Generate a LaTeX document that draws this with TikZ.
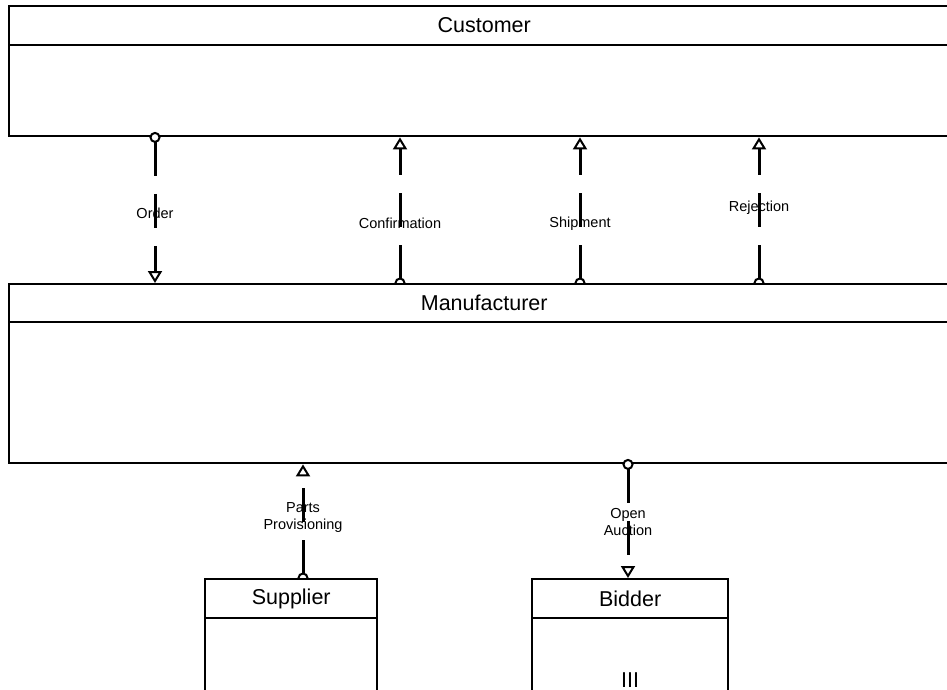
\documentclass[tikz,border=0pt]{standalone}
\usepackage{fontspec}
\setmainfont{Liberation Sans}
\usetikzlibrary{arrows.meta, positioning}
\pgfdeclarelayer{front}
\pgfdeclarelayer{top}
\pgfsetlayers{main,front,top}

\newcommand{\titlesize}{\fontsize{21.5}{24}\selectfont}
\newcommand{\msgsize}{\fontsize{14.5}{17}\selectfont}

\begin{document}
\begin{tikzpicture}[
  x=1pt, y=-1pt,
  classbox/.style={draw, line width=2.4pt, fill=white, inner sep=0pt, anchor=north west},
  classline/.style={line width=2.4pt},
  classname/.style={font=\titlesize, inner sep=0pt},
  msg/.style={line width=3pt, dash pattern=on 34pt off 18pt, shorten <=-5.5pt,
    {Circle[length=11pt, width=11pt, line width=2pt, fill=white]}-{Triangle[length=12pt, width=14pt, line width=2pt, fill=white]}},
  msglbl/.style={font=\msgsize, align=center, inner sep=0pt}
]
  \useasboundingbox (0,0) rectangle (947,690);

  % customer
  \node[classbox, minimum width=950pt, minimum height=130pt] (cust) at (8,5) {};
  \draw[classline] ([yshift=-40pt]cust.north west) -- ([yshift=-40pt]cust.north east);
  \node[classname] (custname) at ([yshift=-20pt]cust.north) {Customer};

  % supplier and bidder
  \begin{pgfonlayer}{top}
    \node[classbox, minimum width=172pt, minimum height=130pt] (sup) at (204,578) {};
    \draw[classline] ([yshift=-40pt]sup.north west) -- ([yshift=-40pt]sup.north east);
    \node[classname] (supname) at ([yshift=-21pt]sup.north) {Supplier};

    \node[classbox, minimum width=196pt, minimum height=130pt] (bid) at (531,578) {};
    \draw[classline] ([yshift=-40pt]bid.north west) -- ([yshift=-40pt]bid.north east);
    \node[classname] (bidname) at ([yshift=-21pt]bid.north) {Bidder};
    \node[classname] (bidmark) at ([yshift=-102pt]bid.north) {III};
  \end{pgfonlayer}

  % manufacturer
  \begin{pgfonlayer}{front}
    \node[classbox, minimum width=950pt, minimum height=179pt] (mfr) at (8,283) {};
    \draw[classline] ([yshift=-39pt]mfr.north west) -- ([yshift=-39pt]mfr.north east);
    \node[classname] (mfrname) at ([yshift=-20pt]mfr.north) {Manufacturer};

    \draw[msg] (sup.north -| 303,0) --
      node[msglbl, pos=.53] (partlbl) {Parts\\Provisioning} (mfr.south -| 303,0);
    \draw[msg] (mfr.south -| 628,0) --
      node[msglbl, pos=.51] (auclbl) {Open\\Auction} (bid.north -| 628,0);
  \end{pgfonlayer}

  % messages customer <-> manufacturer
  \draw[msg] (cust.south -| 155,0) --
    node[msglbl, pos=.52] (ordlbl) {Order} (mfr.north -| 155,0);
  \draw[msg] (mfr.north -| 400,0) --
    node[msglbl, pos=.41] (conflbl) {Confirmation} (cust.south -| 400,0);
  \draw[msg] (mfr.north -| 580,0) --
    node[msglbl, pos=.41] (shiplbl) {Shipment} (cust.south -| 580,0);
  \draw[msg] (mfr.north -| 759,0) --
    node[msglbl, pos=.52] (rejlbl) {Rejection} (cust.south -| 759,0);

\end{tikzpicture}
\end{document}
